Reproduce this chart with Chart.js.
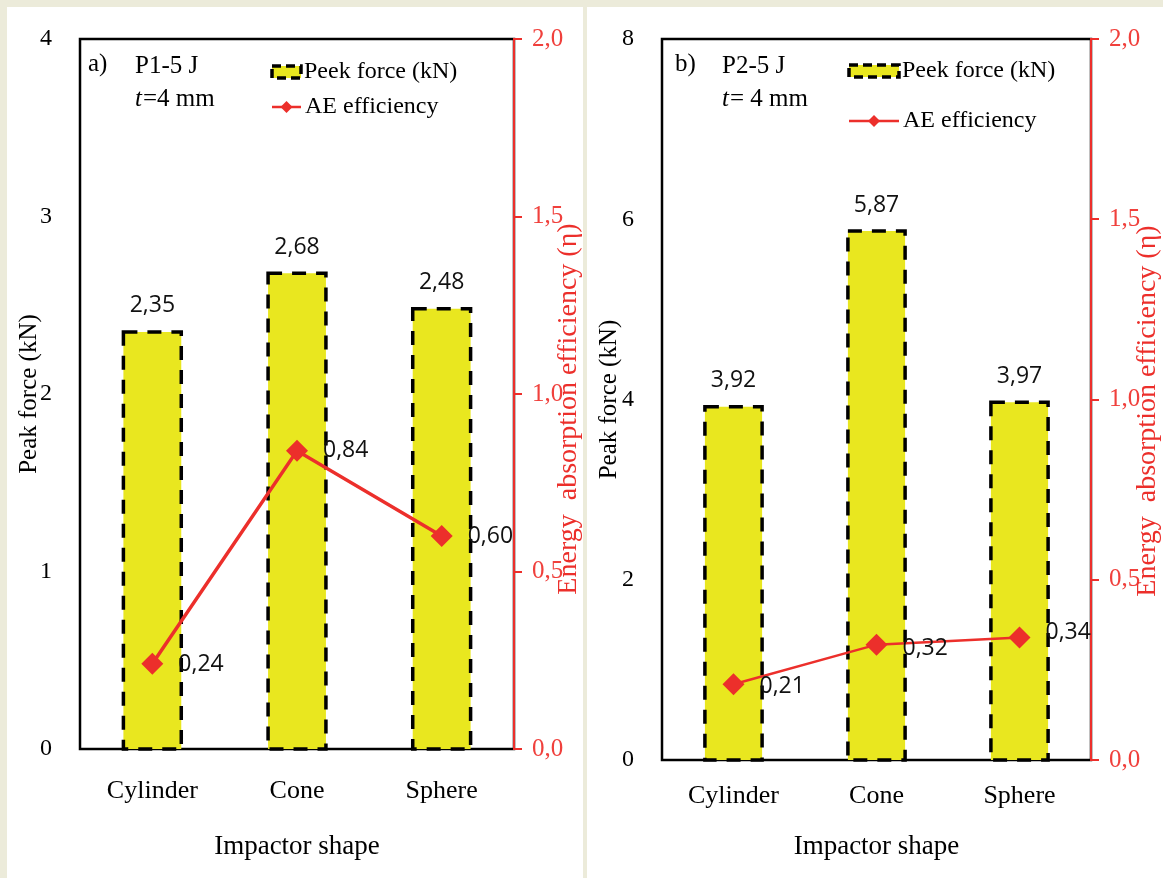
<!DOCTYPE html>
<html>
<head>
<meta charset="utf-8">
<script src="https://cdn.jsdelivr.net/npm/chart.js@4"></script>
<style>
  body { margin: 0; background: #ECEBDA; width: 1163px; height: 878px; overflow: hidden; }
  .panel { position: absolute; top: 7px; width: 576px; height: 871px; background: #fff; }
</style>
</head>
<body>
<div class="panel" style="left:7px"><canvas id="chartA" width="576" height="871"></canvas></div>
<div class="panel" style="left:587px"><canvas id="chartB" width="576" height="871"></canvas></div>
<script>
// Data
const categories = ['Cylinder', 'Cone', 'Sphere'];
const peakForceA = [2.35, 2.68, 2.48];
const aeEfficiencyA = [0.24, 0.84, 0.60];
const peakForceB = [3.92, 5.87, 3.97];
const aeEfficiencyB = [0.21, 0.32, 0.34];
const forceMaxA = 4, forceStepA = 1;
const forceMaxB = 8, forceStepB = 2;
const effMax = 2, effStep = 0.5;
const panelTags = ['a)', 'b)'];
const loadCases = ['P1-5 J', 'P2-5 J'];
const thicknessText = ['=4 mm', '= 4 mm'];

const YELLOW = '#E9E71F';
const RED = '#EC2F2B';
const SERIF = '"Liberation Serif", "Times New Roman", serif';
const SANS = '"Open Sans", "Liberation Sans", sans-serif';

const comma = (v, d) => v.toFixed(d).replace('.', ',');

// frame, dashed bar borders, labels, legend and notes
const panelDecor = {
    id: 'panelDecor',
    beforeDraw(chart) {
        const { ctx, chartArea: a } = chart;
        ctx.save();
        ctx.strokeStyle = '#000';
        ctx.lineWidth = 2.5;
        ctx.strokeRect(a.left, a.top, a.right - a.left, a.bottom - a.top);
        ctx.restore();
    },
    afterDatasetDraw(chart, args) {
        if (chart.data.datasets[args.index].type !== 'bar') return;
        const ctx = chart.ctx;
        ctx.save();
        ctx.setLineDash([14, 10]);
        ctx.lineWidth = 3.5;
        ctx.strokeStyle = '#000';
        args.meta.data.forEach(el => {
            const p = el.getProps(['x', 'y', 'base', 'width'], true);
            ctx.strokeRect(p.x - p.width / 2, p.y, p.width, p.base - p.y);
        });
        ctx.restore();
    },
    afterDraw(chart, args, o) {
        const ctx = chart.ctx;
        const lineMeta = chart.getDatasetMeta(0);
        const barMeta = chart.getDatasetMeta(1);
        ctx.save();

        // value labels
        ctx.fillStyle = '#111';
        ctx.font = '23px ' + SANS;
        ctx.textBaseline = 'middle';
        ctx.textAlign = 'center';
        barMeta.data.forEach((el, i) => {
            ctx.fillText(comma(chart.data.datasets[1].data[i], 2), el.x, el.y - 26);
        });
        ctx.textAlign = 'left';
        lineMeta.data.forEach((el, i) => {
            ctx.fillText(comma(chart.data.datasets[0].data[i], 2), el.x + 26, el.y + o.lblDy[i]);
        });

        // notes
        ctx.font = '25px ' + SERIF;
        ctx.fillStyle = '#000';
        ctx.fillText(o.tag, o.noteX - 47, 57);
        ctx.fillText(o.loadCase, o.noteX, 59);
        ctx.font = 'italic 25px ' + SERIF;
        ctx.fillText('t', o.noteX, 92);
        const tw = ctx.measureText('t').width;
        ctx.font = '25px ' + SERIF;
        ctx.fillText(o.thick, o.noteX + tw + 1, 92);

        // legend
        const L = o.legend;
        ctx.fillStyle = YELLOW;
        ctx.fillRect(L.x, L.barY - 6, L.w, 12);
        ctx.setLineDash([9, 5]);
        ctx.lineWidth = 3.5;
        ctx.strokeStyle = '#000';
        ctx.strokeRect(L.x, L.barY - 6, L.w, 12);
        ctx.setLineDash([]);
        ctx.strokeStyle = RED;
        ctx.lineWidth = 2.5;
        ctx.beginPath();
        ctx.moveTo(L.x, L.lineY);
        ctx.lineTo(L.x + L.w, L.lineY);
        ctx.stroke();
        ctx.fillStyle = RED;
        const cx = L.x + L.w / 2;
        ctx.beginPath();
        ctx.moveTo(cx - 6, L.lineY); ctx.lineTo(cx, L.lineY - 6);
        ctx.lineTo(cx + 6, L.lineY); ctx.lineTo(cx, L.lineY + 6);
        ctx.closePath();
        ctx.fill();
        ctx.fillStyle = '#000';
        ctx.font = '24px ' + SERIF;
        ctx.fillText(chart.data.datasets[1].label, L.x + L.w + 3, L.barY);
        ctx.fillText(chart.data.datasets[0].label, L.x + L.w + 4, L.lineY);

        // right axis title, reading bottom to top
        ctx.translate(o.rtX, o.rtY);
        ctx.rotate(-Math.PI / 2);
        ctx.textAlign = 'center';
        ctx.fillStyle = RED;
        ctx.font = '28px ' + SERIF;
        ctx.fillText('Energy  absorption efficiency (\u03b7)', 0, 0);
        ctx.restore();
    }
};

function buildChart(id, p) {
    return new Chart(document.getElementById(id), {
        type: 'bar',
        data: {
            labels: categories,
            datasets: [{
                type: 'line',
                label: 'AE efficiency',
                data: p.eff,
                yAxisID: 'y1',
                order: 0,
                borderColor: RED,
                borderWidth: p.lineWidth,
                pointStyle: 'rectRot',
                pointRadius: 11,
                pointBackgroundColor: RED,
                pointBorderWidth: 0,
                tension: 0
            }, {
                type: 'bar',
                label: 'Peek force (kN)',
                data: p.force,
                yAxisID: 'y',
                order: 1,
                backgroundColor: YELLOW,
                borderWidth: 0,
                categoryPercentage: 1,
                barPercentage: 0.4
            }]
        },
        options: {
            responsive: false,
            animation: false,
            layout: { padding: { top: 31, left: 0, right: 0, bottom: 0 } },
            plugins: {
                legend: { display: false },
                tooltip: { enabled: false },
                panelDecor: p.decor
            },
            scales: {
                x: {
                    grid: { display: false },
                    border: { display: false },
                    ticks: { color: '#000', font: { family: SERIF, size: 26 }, padding: p.xPad, maxRotation: 0 },
                    title: { display: true, text: 'Impactor shape', color: '#000', font: { family: SERIF, size: 27 }, padding: { bottom: 15 } },
                    afterFit: s => { s.height = p.xHeight; }
                },
                y: {
                    position: 'left',
                    min: 0, max: p.forceMax,
                    grid: { display: false },
                    border: { display: false },
                    ticks: { stepSize: p.forceStep, color: '#000', font: { family: SERIF, size: 24, lineHeight: 1 }, padding: 20 },
                    title: { display: true, text: 'Peak force (kN)', color: '#000', font: { family: SERIF, size: 25 }, padding: { top: 7 } },
                    afterFit: s => { s.width = p.yWidth; }
                },
                y1: {
                    position: 'right',
                    min: 0, max: effMax,
                    grid: { drawOnChartArea: false, drawTicks: true, tickLength: 8, color: RED, lineWidth: 2 },
                    border: { display: true, color: RED, width: 2 },
                    ticks: { stepSize: effStep, color: '#F0403C', font: { family: SERIF, size: 25, lineHeight: 1 }, padding: 10, callback: v => comma(v, 1) },
                    afterFit: s => { s.width = p.y1Width; }
                }
            }
        },
        plugins: [panelDecor]
    });
}

buildChart('chartA', {
    force: peakForceA, eff: aeEfficiencyA,
    forceMax: forceMaxA, forceStep: forceStepA,
    lineWidth: 3.5, xPad: 19, xHeight: 129, yWidth: 73, y1Width: 69,
    decor: {
        tag: panelTags[0], loadCase: loadCases[0], thick: thicknessText[0],
        noteX: 128, lblDy: [1, 0, 0],
        legend: { x: 265, w: 29, barY: 65, lineY: 100 },
        rtX: 562, rtY: 402
    }
});

buildChart('chartB', {
    force: peakForceB, eff: aeEfficiencyB,
    forceMax: forceMaxB, forceStep: forceStepB,
    lineWidth: 2.5, xPad: 13, xHeight: 118, yWidth: 75, y1Width: 72,
    decor: {
        tag: panelTags[1], loadCase: loadCases[1], thick: thicknessText[1],
        noteX: 135, lblDy: [2, 4, -5],
        legend: { x: 262, w: 50, barY: 64, lineY: 114 },
        rtX: 561, rtY: 404
    }
});
</script>
</body>
</html>
